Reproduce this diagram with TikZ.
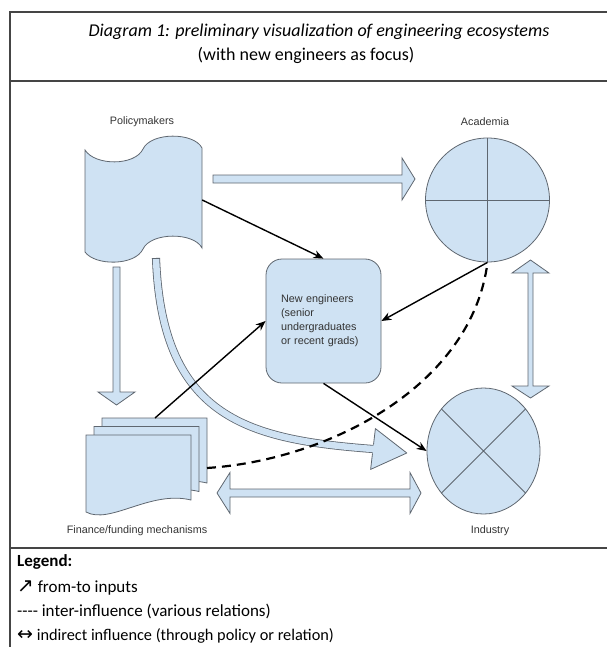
\documentclass[tikz,border=0pt]{standalone}
\usepackage{fontspec}
\setmainfont{Liberation Sans}
\newfontfamily\calibri{Carlito}
\newfontfamily\symfont{DejaVu Sans}
\usetikzlibrary{shapes.geometric,arrows.meta}

\definecolor{boxfill}{HTML}{CFE2F3}
\definecolor{boxline}{HTML}{5F6770}
\definecolor{labeltext}{HTML}{333333}
\definecolor{framegray}{HTML}{454545}

\begin{document}
\begin{tikzpicture}[x=1pt,y=-1pt,
        shp/.style={draw=boxline,fill=boxfill,line width=0.8pt},
        lbl/.style={text=labeltext,font=\fontsize{10.8}{14}\selectfont},
        conn/.style={black,line width=1.4pt,-{Stealth[length=10pt,width=8pt]}},
        frm/.style={framegray,line width=1.2pt},
        leg/.style={anchor=base west,inner sep=0pt,font=\calibri\fontsize{17}{20}\selectfont}]
    \useasboundingbox (0,0) rectangle (607,647);

    % frame and title
    \draw[frm] (10,647) -- (10,12) -- (607,12);
    \draw[frm] (10,81) -- (607,81);
    \draw[frm] (10,548) -- (607,548);
    \node[anchor=base,font=\calibri\itshape\fontsize{18}{20}\selectfont] (title) at (319,37)
        {Diagram 1: preliminary visualization of engineering ecosystems};
    \node[anchor=base,font=\calibri\fontsize{18}{20}\selectfont] (subtitle) at (306,61)
        {(with new engineers as focus)};

    % block arrows
    \draw[shp] (213,175) -- (402,175) -- (402,158) -- (415,179) -- (402,200) -- (402,183) -- (213,183) -- cycle;
    \draw[shp] (113,267) -- (120,267) -- (120,392) -- (135,392) -- (116.5,405) -- (98,392) -- (113,392) -- cycle;
    \draw[shp] (530.5,260) -- (549,273) -- (533,273) -- (533,386) -- (549,386) -- (530.5,398)
        -- (512,386) -- (528,386) -- (528,273) -- (512,273) -- cycle;
    \draw[shp] (217,493) -- (230,472.5) -- (230,489) -- (410,489) -- (410,472.5) -- (421,493)
        -- (410,513.5) -- (410,497) -- (230,497) -- (230,513.5) -- cycle;

    % policymakers (punched tape)
    \draw[shp] (85,150) .. controls (95,166) and (135,166) .. (143,149)
        .. controls (151,132) and (194,132) .. (202,148) -- (202,248)
        .. controls (194,232) and (151,232) .. (143,249)
        .. controls (135,266) and (95,266) .. (85,252) -- cycle;
    \node[minimum width=117pt,minimum height=126pt,inner sep=0pt] (policy) at (143.5,200) {};
    \node[lbl] at (142,122) {Policymakers};

    % finance (stacked documents)
    \foreach \dx/\dy in {16/-17,8/-8.5,0/0}
        \draw[shp,shift={(\dx,\dy)}] (86,435) -- (191,435) -- (191,500)
            .. controls (150,490) and (110,525) .. (86,512) -- cycle;
    \coordinate (fintop) at (155,418);
    \coordinate (finright) at (207,468);
    \node[lbl] at (137,531) {Finance/funding mechanisms};

    % curved block arrow policymakers -> industry
    \draw[boxline,line width=0.8pt,double=boxfill,double distance=6.5pt]
        (156,258) .. controls (162,420) and (250,440) .. (377,449.3);
    \draw[boxline,line width=0.8pt] (151.9,258) -- (160.1,258);
    \fill[boxfill] (375.4,428.6) -- (406.8,453) -- (370.6,469.4) -- cycle;
    \draw[boxline,line width=0.8pt,line join=round] (373.5,444.6) -- (375.4,428.6) -- (406.8,453)
        -- (370.6,469.4) -- (372.5,453.4);

    % academia
    \node[shp,circle,minimum size=124pt,inner sep=0pt] (acad) at (487.5,200) {};
    \draw[boxline,line width=0.8pt] (acad.north) -- (acad.south) (acad.west) -- (acad.east);
    \node[lbl] at (485,122) {Academia};

    % industry
    \node[shp,ellipse,minimum width=113pt,minimum height=126pt,inner sep=0pt] (indus) at (483.5,451) {};
    \draw[boxline,line width=0.8pt] (indus.45) -- (indus.225) (indus.135) -- (indus.315);
    \node[lbl] at (490,531) {Industry};

    % new engineers
    \node[shp,rounded corners=16pt,minimum height=124pt,text width=85pt,inner xsep=15pt,
        align=left,lbl] (neweng) at (323.5,321)
        {New engineers\\(senior\\undergraduates\\or recent grads)};

    % relations
    \draw[black,line width=2.2pt,dash pattern=on 9pt off 6pt]
        (finright) .. controls (330,460) and (472,385) .. (acad.south);
    \draw[conn] (policy.east) -- (neweng.north);
    \draw[conn] (fintop) -- (neweng.west);
    \draw[conn] (acad.south) -- (neweng.east);
    \draw[conn] (neweng.south) -- (indus.west);

    % legend
    \node[leg,font=\calibri\bfseries\fontsize{17}{20}\selectfont] at (17,566) {Legend:};
    \node[leg] at (17,592) {{\symfont\fontsize{20}{20}\selectfont ↗} from-to inputs};
    \node[leg] at (17,616) {{-}{-}{-}{-} inter-influence (various relations)};
    \node[leg,font=\calibri\fontsize{16.3}{18}\selectfont] at (17,640)
        {{\symfont\fontsize{19}{19}\selectfont ↔} indirect influence (through policy or relation)};
\end{tikzpicture}
\end{document}
